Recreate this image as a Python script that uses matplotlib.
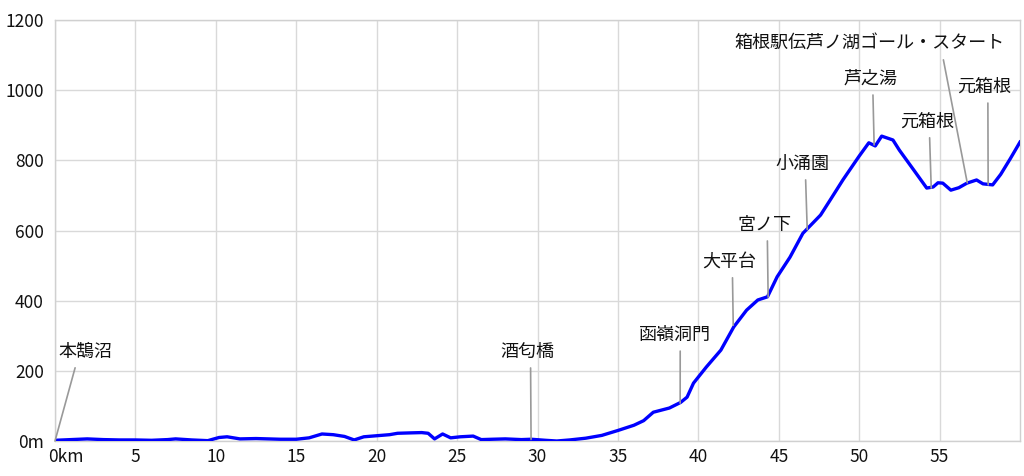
import matplotlib
matplotlib.use("Agg")
import matplotlib.pyplot as plt
import matplotlib.transforms as mtransforms

plt.rcParams['font.family'] = ['Noto Sans CJK JP', 'DejaVu Sans']

# course profile: distance (km) and elevation (m)
dist = [0, 1, 2, 3, 4, 5, 6, 7, 7.5, 8.5, 9.5, 10.2, 10.7, 11.5, 12.5, 14, 15,
        15.8, 16.6, 17.3, 18, 18.6, 19.2, 20, 20.8, 21.3, 22, 22.8, 23.2, 23.6,
        24.1, 24.6, 25.2, 26, 26.5, 27.2, 28, 29, 29.6, 30.5, 31.2, 32, 33, 34,
        35, 36, 36.6, 37.2, 38.2, 38.9, 39.3, 39.7, 40.5, 41.4, 42.2, 43.0,
        43.7, 44.3, 44.9, 45.7, 46.5, 47.6, 48.2, 49.0, 50.0, 50.6, 51.0, 51.4,
        52.1, 52.5, 53.4, 54.2, 54.6, 54.9, 55.2, 55.7, 56.2, 56.7, 57.3, 57.7,
        58.3, 58.8, 59.4, 60.0]
elev = [2, 4, 6, 4, 3, 3, 2, 4, 6, 3, 1, 10, 12, 6, 7, 5, 5,
        9, 20, 18, 13, 3, 12, 15, 18, 22, 23, 24, 22, 6,
        20, 9, 12, 14, 4, 5, 6, 4, 5, 2, 0, 3, 8, 16,
        30, 45, 58, 82, 94, 110, 125, 165, 211, 259, 325, 373,
        402, 411, 468, 524, 592, 644, 687, 745, 812, 850, 841, 869,
        858, 829, 772, 721, 724, 736, 735, 715, 722, 735, 744, 733,
        730, 760, 805, 852]

# annotated places: label, point on course, text bottom-centre, line anchor on text
places = ['本鵠沼', '酒匂橋', '函嶺洞門', '大平台', '宮ノ下', '小涌園', '芦之湯',
          '元箱根', '箱根駅伝芦ノ湖ゴール・スタート', '元箱根']
place_km = [0, 29.6, 38.87, 42.17, 44.34, 46.77, 50.93, 54.48, 56.72, 58.02]
place_elev = [0, 5, 108, 330, 410, 603, 844, 721, 736, 730]
text_km = [1.87, 29.4, 38.56, 41.95, 44.12, 46.49, 50.68, 54.2, 50.62, 57.8]
text_elev = [228, 228, 276, 485, 590, 764, 1006, 884, 1106, 983]
text_rel = [0.35, 0.55, 0.57, 0.55, 0.55, 0.55, 0.55, 0.55, 0.77, 0.56]

xticks = [0, 5, 10, 15, 20, 25, 30, 35, 40, 45, 50, 55]
xticklabels = ['0km', '5', '10', '15', '20', '25', '30', '35', '40', '45', '50', '55']
yticks = [0, 200, 400, 600, 800, 1000, 1200]
yticklabels = ['0m', '200', '400', '600', '800', '1000', '1200']

fig = plt.figure(figsize=(10.24, 4.76), dpi=100)
ax = fig.add_axes([55 / 1024, 1 - 441 / 476, 965 / 1024, 421 / 476])

ax.plot(dist, elev, color='#0000ff', linewidth=2.4, solid_joinstyle='round', zorder=3)

for name, px, py, tx, ty, rx in zip(places, place_km, place_elev,
                                    text_km, text_elev, text_rel):
    ax.annotate(name, xy=(px, py), xytext=(tx, ty), ha='center', va='bottom',
                fontsize=13, color='#111111', zorder=4,
                arrowprops=dict(arrowstyle='-', color='#999999', lw=1.2,
                                relpos=(rx, 0), shrinkA=3, shrinkB=0))

ax.set_xlim(0, 60)
ax.set_ylim(0, 1200)
ax.set_xticks(xticks)
ax.set_xticklabels(xticklabels)
ax.set_yticks(yticks)
ax.set_yticklabels(yticklabels)
ax.tick_params(length=0, labelsize=12.5, colors='#111111')
ax.tick_params(axis='y', pad=8)
ax.tick_params(axis='x', pad=5)

# shift "0km" so the digit sits under the zero tick
first = ax.get_xticklabels()[0]
first.set_horizontalalignment('left')
first.set_transform(first.get_transform() +
                    mtransforms.ScaledTranslation(-7 / 100, 0, fig.dpi_scale_trans))

ax.grid(True, color='#d9d9d9', linewidth=1)
ax.set_axisbelow(True)
for s in ax.spines.values():
    s.set_color('#d0d0d0')
    s.set_linewidth(1)

fig.savefig('out.png', dpi=100)
